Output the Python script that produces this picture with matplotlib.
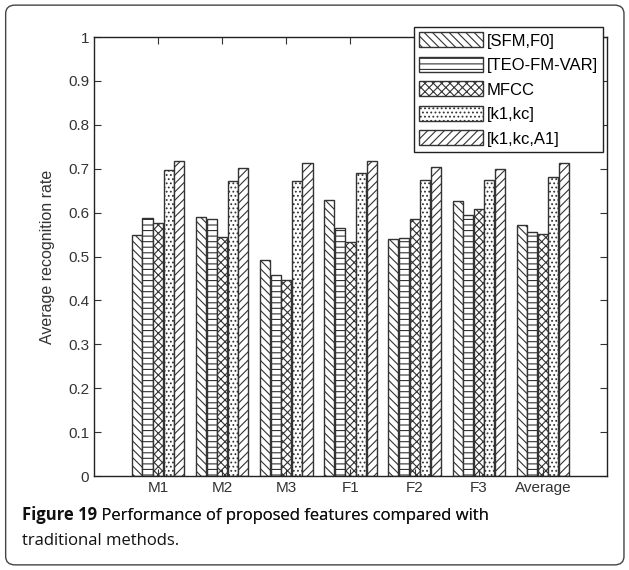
import numpy as np
import matplotlib
matplotlib.use("Agg")
import matplotlib.pyplot as plt
from matplotlib.patches import FancyBboxPatch

# data
groups = ["M1", "M2", "M3", "F1", "F2", "F3", "Average"]
features = ["[SFM,F0]", "[TEO-FM-VAR]", "MFCC", "[k1,kc]", "[k1,kc,A1]"]
sfm_f0 = [0.548, 0.591, 0.493, 0.629, 0.540, 0.626, 0.571]
teo_fm_var = [0.588, 0.585, 0.458, 0.566, 0.543, 0.595, 0.557]
mfcc = [0.577, 0.544, 0.447, 0.534, 0.586, 0.609, 0.552]
k1_kc = [0.698, 0.672, 0.672, 0.690, 0.675, 0.675, 0.682]
k1_kc_a1 = [0.718, 0.702, 0.713, 0.718, 0.705, 0.700, 0.712]
series = [sfm_f0, teo_fm_var, mfcc, k1_kc, k1_kc_a1]
hatches = ["\\\\\\\\", "---", "xxxx", "....", "////"]

plt.rcParams["font.family"] = ["Liberation Sans", "DejaVu Sans"]
plt.rcParams["hatch.linewidth"] = 0.8

fig = plt.figure(figsize=(6.29, 5.70), dpi=100)
ax = fig.add_axes([0.1494, 0.1649, 0.8156, 0.7701])

x = np.arange(1, len(groups) + 1)
w = 0.165
for i, (vals, h, lab) in enumerate(zip(series, hatches, features)):
    ax.bar(x + (i - 2) * w, vals, width=w * 0.95, color="white",
           edgecolor="#333333", linewidth=1.0, hatch=h, label=lab)

ax.set_xlim(0, 8)
ax.set_ylim(0, 1)
ax.set_xticks(x)
ax.set_xticklabels(groups, fontsize=11)
ax.set_yticks(np.arange(0, 1.01, 0.1))
ax.set_yticklabels(["0", "0.1", "0.2", "0.3", "0.4", "0.5", "0.6", "0.7",
                    "0.8", "0.9", "1"], fontsize=11)
ax.tick_params(direction="in", top=True, right=True, length=5, width=0.8,
               colors="#333333")
ax.set_ylabel("Average recognition rate", fontsize=11.5, labelpad=9,
              color="#333333")
for s in ax.spines.values():
    s.set_linewidth(1.0)
    s.set_color("#222222")

leg = ax.legend(loc="upper right", bbox_to_anchor=(0.9922, 1.022),
                fontsize=12, handlelength=3.8, handleheight=1.0,
                handletextpad=0.25, labelspacing=0.5, borderpad=0.3,
                borderaxespad=0, fancybox=False, framealpha=1,
                edgecolor="#222222")
leg.get_frame().set_linewidth(1.0)

# caption
t1 = fig.text(0.035, 0.087, "Figure 19", fontsize=12, fontweight="bold",
              family="Open Sans", color="#111111")
fig.texts.append(plt.annotate(" Performance of proposed features compared with",
                              xy=(1, 0), xycoords=t1, va="bottom",
                              fontsize=12, family="Open Sans",
                              color="#111111", annotation_clip=False))
fig.text(0.035, 0.043, "traditional methods.", fontsize=12,
         family="Open Sans", color="#111111")

# rounded frame around the figure
frame = FancyBboxPatch((0.009, 0.009), 0.983, 0.982,
                       boxstyle="round,pad=0,rounding_size=0.015",
                       transform=fig.transFigure, fill=False,
                       edgecolor="#444444", linewidth=1.0)
fig.patches.append(frame)

fig.savefig("out.png", dpi=100)
